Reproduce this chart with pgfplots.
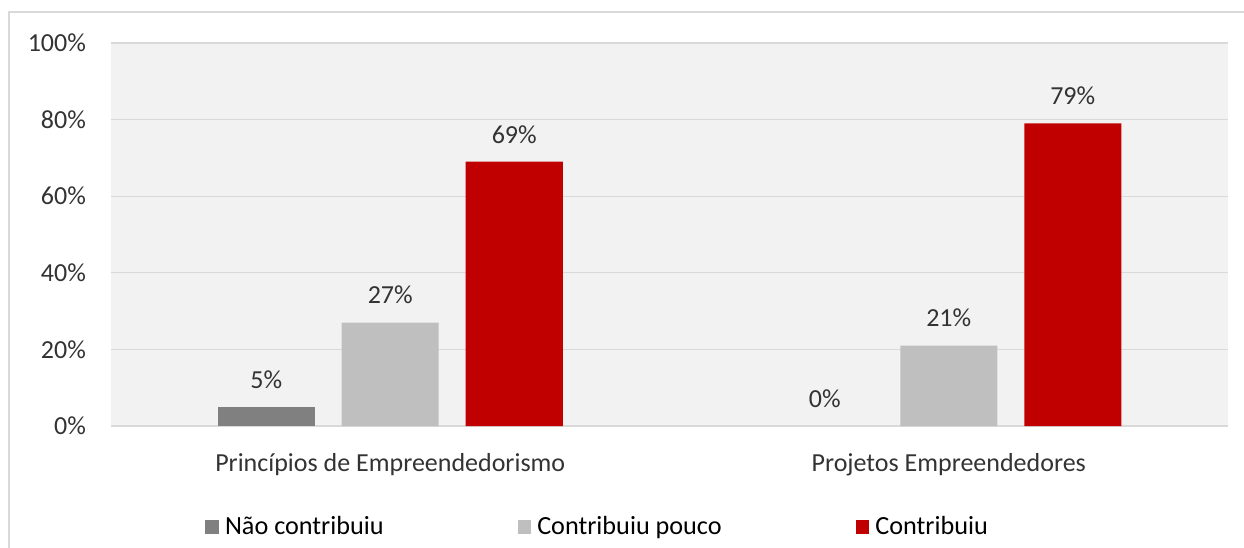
\documentclass[border=0pt]{standalone}
\usepackage{pgfplots}
\pgfplotsset{compat=1.18}
\usepackage{fontspec}
\setmainfont{Carlito}
\definecolor{cnao}{HTML}{808080}
\definecolor{cpouco}{HTML}{BFBFBF}
\definecolor{ccontr}{HTML}{C00000}
\definecolor{plotbg}{HTML}{F2F2F2}
\definecolor{gridc}{HTML}{D9D9D9}
\definecolor{txt}{HTML}{333333}
\begin{document}
\begin{tikzpicture}
\useasboundingbox (-55.5pt,-60.5pt) rectangle (566.5pt,213pt);
\draw[gridc, line width=0.8pt] (-51pt,-62pt) -- (-51pt,207pt) -- (568pt,207pt);
\begin{axis}[
  scale only axis,
  width=558.5pt, height=191.5pt,
  xmin=-0.5, xmax=1.5,
  ymin=0, ymax=100,
  ybar, bar width=48.5pt,
  xtick={0,1},
  xticklabels={Princípios de Empreendedorismo, Projetos Empreendedores},
  ytick={0,20,40,60,80,100},
  yticklabel={\pgfmathprintnumber{\tick}\%},
  /pgf/number format/assume math mode=true,
  major tick length=0pt,
  axis line style={draw=none},
  ymajorgrids, grid style={gridc, line width=0.6pt},
  axis background/.style={fill=plotbg},
  tick label style={font=\fontsize{13pt}{15pt}\selectfont, text=txt},
  yticklabel style={xshift=-9pt},
  xticklabel style={yshift=-10pt},
  nodes near coords={\pgfmathprintnumber{\pgfplotspointmeta}\%},
  every node near coord/.append style={font=\fontsize{13pt}{15pt}\selectfont, text=txt, inner sep=0pt, yshift=9pt},
  legend style={at={(0.0842,-0.264)}, anchor=west, draw=none, fill=none, inner sep=0pt,
    font=\fontsize{13.1pt}{15pt}\selectfont, text=black},
  legend columns=3,
  legend image code/.code={\fill[#1] (0pt,-3.4pt) rectangle (6.8pt,3.4pt);},
  legend cell align=left,
  /tikz/every odd column/.append style={column sep=1pt},
  /tikz/every even column/.append style={column sep=65pt},
  clip=false,
]
\addplot[fill=cnao, draw=none, bar shift=-62pt] coordinates {(0,5)};
\addplot[fill=cpouco, draw=none, bar shift=0pt] coordinates {(0,27) (1,21)};
\addplot[fill=ccontr, draw=none, bar shift=62pt] coordinates {(0,69) (1,79)};
\addplot[draw=none, fill=none, bar shift=-62pt, forget plot] coordinates {(1,0)};
\legend{Não contribuiu, Contribuiu pouco, Contribuiu}
\end{axis}
\end{tikzpicture}
\end{document}
